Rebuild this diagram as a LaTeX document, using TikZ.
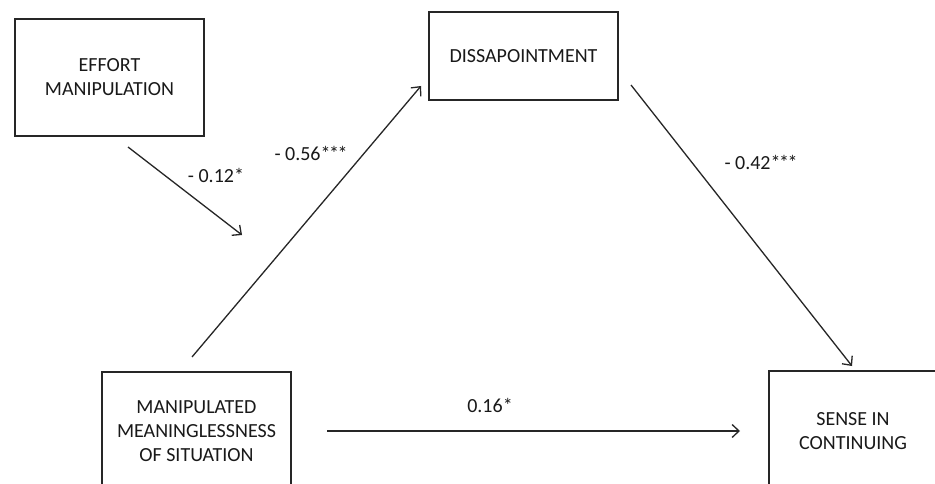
\documentclass[tikz,border=0pt]{standalone}
\usepackage{fontspec}
\setmainfont{Carlito}
\usetikzlibrary{arrows.meta}
\newcommand{\stars}{*\kern-1.5pt*\kern-1.5pt*}
\begin{document}
\begin{tikzpicture}[x=1pt,y=-1pt,
  box/.style={draw=black!85,line width=1.4pt,rectangle,inner sep=0pt,align=center,
              text=black!90,font=\fontsize{20}{24}\selectfont},
  conn/.style={draw=black!85,line width=1.3pt,-{Straight Barb[length=7pt,width=13pt]}},
  lbl/.style={font=\fontsize{20}{24}\selectfont,inner sep=0pt,text=black!90}]
\clip (0,0) rectangle (935,484);
\fill[white] (0,0) rectangle (935,484);
% boxes
\node[box,minimum width=189pt,minimum height=117pt] (effort) at (109.5,77.5) {EFFORT\\MANIPULATION};
\node[box,minimum width=189pt,minimum height=88pt] (dis) at (523.5,56) {DISSAPOINTMENT};
\node[box,minimum width=189pt,minimum height=118pt] (mean) at (196.5,431) {MANIPULATED\\MEANINGLESSNESS\\OF SITUATION};
\node[box,minimum width=168pt,minimum height=120pt] (sense) at (853,431) {SENSE IN\\CONTINUING};
% connector endpoints
\coordinate (e1) at (128,147);
\coordinate (e2) at (242,235);
\coordinate (m1) at (192,357);
\coordinate (d1) at (421,86);
\coordinate (d2) at (631,85);
\coordinate (s1) at (852,366);
\coordinate (m2) at (327,431);
\coordinate (s2) at (740,431);
% connectors
\draw[conn] (e1) -- (e2);
\draw[conn] (m1) -- (d1);
\draw[conn] (d2) -- (s1);
\draw[conn] (m2) -- (s2);
% labels
\node[lbl] (l1) at (216,175) {- 0.12*};
\node[lbl] (l2) at (311,153) {- 0.56\stars};
\node[lbl] (l3) at (761,162) {- 0.42\stars};
\node[lbl] (l4) at (490,405) {0.16*};
\end{tikzpicture}
\end{document}
